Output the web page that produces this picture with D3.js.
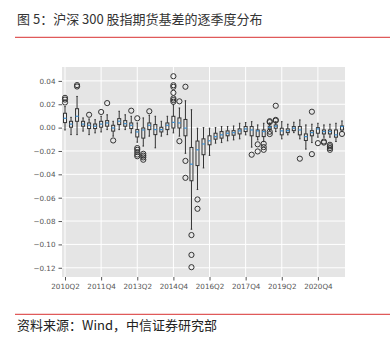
<!DOCTYPE html>
<html><head><meta charset="utf-8">
<script src="https://cdn.jsdelivr.net/npm/d3@7"></script>
<style>
html,body{margin:0;padding:0;background:#fff;}
svg{display:block;}
</style></head>
<body>
<svg id="c" width="390" height="341"></svg>
<script>
const quarters = ["2010Q2","2010Q3","2010Q4","2011Q1","2011Q2","2011Q3","2011Q4","2012Q1","2012Q2","2012Q3","2012Q4","2013Q1","2013Q2","2013Q3","2013Q4","2014Q1","2014Q2","2014Q3","2014Q4","2015Q1","2015Q2","2015Q3","2015Q4","2016Q1","2016Q2","2016Q3","2016Q4","2017Q1","2017Q2","2017Q3","2017Q4","2018Q1","2018Q2","2018Q3","2018Q4","2019Q1","2019Q2","2019Q3","2019Q4","2020Q1","2020Q2","2020Q3","2020Q4","2021Q1","2021Q2","2021Q3","2021Q4"];
const whiskerHigh = [0.018,0.0088,0.0267,0.0083,0.0074,0.0068,0.0097,0.011,0.0054,0.014,0.011,0.0097,0.004,0.0083,0.0105,0.0097,0.0054,0.0097,0.0196,0.0168,0.023,0.0153,-0.0005,0,-0.0005,0,0.0009,0.0009,0.0014,0.0037,0.0043,0.0051,0.0023,0.0037,0.004,0.005,0.0051,0.0029,0.0046,0.0066,0.0023,0.0029,0.0037,0.0023,0.0029,0.0037,0.0057];
const q3 = [0.0123,0.0054,0.0162,0.0054,0.004,0.0031,0.0054,0.006,0.002,0.0077,0.006,0.004,-0.0017,-0.0003,0.004,0.0026,0.0003,0.004,0.0097,0.0083,0.007,-0.017,-0.0115,-0.0096,-0.007,-0.0048,-0.0034,-0.0028,-0.0026,-0.0011,0.0009,0.0009,-0.002,-0.002,0.0012,0.0023,-0.0005,-0.0011,0.0009,0.0009,-0.0054,-0.0026,0,-0.002,-0.002,-0.002,0.0014];
const median = [0.008,0.003,0.0097,0.003,0.002,0.0012,0.003,0.004,-0.0003,0.0055,0.0034,0.002,-0.0037,-0.002,0.002,-0.0017,-0.0017,0.002,0.0045,0.004,-0.0004,-0.0313,-0.019,-0.014,-0.0113,-0.0077,-0.0062,-0.0048,-0.0043,-0.0028,-0.0011,-0.002,-0.0028,-0.0034,0.0002,0.0012,-0.0028,-0.0026,-0.0005,-0.002,-0.0077,-0.0043,-0.0011,-0.0034,-0.0034,-0.0062,0.0009];
const q1 = [0.0043,0.0003,0.0054,0.0012,-0.0008,-0.0008,0.0003,0.0012,-0.003,0.0026,0.0012,-0.0008,-0.008,-0.009,-0.0017,-0.006,-0.0037,-0.0017,-0.0003,-0.0003,-0.007,-0.0455,-0.0325,-0.0232,-0.0147,-0.0099,-0.009,-0.007,-0.0065,-0.0054,-0.0034,-0.007,-0.0077,-0.0077,-0.0012,-0.0005,-0.0062,-0.0043,-0.0026,-0.0062,-0.011,-0.007,-0.0048,-0.0054,-0.0054,-0.0082,-0.002];
const whiskerLow = [-0.002,-0.006,-0.006,-0.003,-0.006,-0.0045,-0.0037,-0.0017,-0.0073,-0.0017,-0.0017,-0.0045,-0.0125,-0.0158,-0.0073,-0.0173,-0.0073,-0.006,-0.0045,-0.0073,-0.022,-0.087,-0.053,-0.0345,-0.0238,-0.0133,-0.0128,-0.0113,-0.0105,-0.0096,-0.0062,-0.0167,-0.0105,-0.012,-0.0025,-0.0034,-0.0096,-0.0062,-0.0043,-0.0096,-0.0184,-0.0128,-0.0082,-0.0082,-0.0082,-0.0119,-0.0034];
const outliers = [[0.0255,0.024,0.0215],[],[0.0364,0.0352],[],[0.011],[],[0.0134],[0.021],[-0.011],[],[],[0.0145],[0.008,-0.0175,-0.019,-0.021,-0.023,-0.0245],[-0.0224,-0.024,-0.0255,-0.0275],[0.014],[],[],[],[0.044,0.0363,0.0349,0.0298,0.025,0.0236,0.0221],[0.0225,-0.0116],[0.035,-0.0285,-0.043],[-0.092,-0.109,-0.1195],[-0.0615,-0.0695],[],[],[],[],[],[],[],[],[-0.0232],[-0.0143,-0.0204],[-0.0138,-0.0167,-0.019],[0.0055,0.0047,-0.0035,-0.0055],[0.0187,0.0066,0.006],[],[],[],[-0.0266],[],[0.0136,-0.0227],[-0.0133],[-0.0119,-0.0128],[-0.0147,-0.016,-0.0175,-0.019],[],[-0.0054]];
const yTicks = [0.04,0.02,0.00,-0.02,-0.04,-0.06,-0.08,-0.10,-0.12];
const xTickLabels = ["2010Q2","2011Q4","2013Q2","2014Q4","2016Q2","2017Q4","2019Q2","2020Q4"];

const svg = d3.select("#c");
const cjk = "'Noto Sans CJK SC','Noto Sans',sans-serif";
const L = 62, R = 345, T = 67, B = 277;

// title
svg.append("text").attr("x",17).attr("y",24).attr("font-family",cjk).attr("font-size",13).attr("fill","#333").text("图 5：沪深 300 股指期货基差的逐季度分布");
svg.append("line").attr("x1",15).attr("x2",390).attr("y1",37.3).attr("y2",37.3).attr("stroke","#e05a5a").attr("stroke-width",1.3);
svg.append("line").attr("x1",15).attr("x2",390).attr("y1",314.3).attr("y2",314.3).attr("stroke","#e05a5a").attr("stroke-width",1.3);
svg.append("text").attr("x",17).attr("y",330).attr("font-family",cjk).attr("font-size",13).attr("fill","#222").text("资料来源：Wind，中信证券研究部");

const x = d3.scaleLinear().domain([0.5, quarters.length + 0.5]).range([L, R]);
const y = d3.scaleLinear().domain([-0.1279, 0.0519]).range([B, T]);

svg.append("rect").attr("x",L).attr("y",T).attr("width",R-L).attr("height",B-T).attr("fill","#e5e5e5");

const xTickPos = quarters.map((q,i)=>i+1).filter((p,i)=>xTickLabels.includes(quarters[i]));
const g = svg.append("g");
// grid
g.selectAll(".hg").data(yTicks).enter().append("line").attr("x1",L).attr("x2",R).attr("y1",d=>y(d)).attr("y2",d=>y(d)).attr("stroke","#fff").attr("stroke-width",1);
g.selectAll(".vg").data(xTickPos).enter().append("line").attr("y1",T).attr("y2",B).attr("x1",d=>x(d)).attr("x2",d=>x(d)).attr("stroke","#fff").attr("stroke-width",1);

// axes
const fmt = d => (d<0?"\u2212":"") + Math.abs(d).toFixed(2);
const yAxis = d3.axisLeft(y).tickValues(yTicks).tickFormat(fmt).tickSize(3.5).tickPadding(3);
const ya = svg.append("g").attr("transform",`translate(${L},0)`).call(yAxis);
ya.select(".domain").remove();
ya.selectAll("line").attr("stroke","#555");
ya.selectAll("text").attr("font-family","'DejaVu Sans',sans-serif").attr("font-size",7.2).attr("fill","#555");

const xAxis = d3.axisBottom(x).tickValues(xTickPos).tickFormat(d=>quarters[d-1]).tickSize(3.5).tickPadding(3);
const xa = svg.append("g").attr("transform",`translate(0,${B})`).call(xAxis);
xa.select(".domain").remove();
xa.selectAll("line").attr("stroke","#555");
xa.selectAll("text").attr("font-family","'DejaVu Sans',sans-serif").attr("font-size",7.2).attr("fill","#555");

// boxes
const bw = x(1.25) - x(0.75);
const cw = x(1.125) - x(0.875);
const stroke = "#333";
quarters.forEach((q,i)=>{
  const p = i+1, cx = x(p);
  const bg = g.append("g");
  bg.append("line").attr("x1",cx).attr("x2",cx).attr("y1",y(q3[i])).attr("y2",y(whiskerHigh[i])).attr("stroke",stroke).attr("stroke-width",1);
  bg.append("line").attr("x1",cx).attr("x2",cx).attr("y1",y(q1[i])).attr("y2",y(whiskerLow[i])).attr("stroke",stroke).attr("stroke-width",1);
  bg.append("line").attr("x1",cx-cw/2).attr("x2",cx+cw/2).attr("y1",y(whiskerHigh[i])).attr("y2",y(whiskerHigh[i])).attr("stroke",stroke).attr("stroke-width",1);
  bg.append("line").attr("x1",cx-cw/2).attr("x2",cx+cw/2).attr("y1",y(whiskerLow[i])).attr("y2",y(whiskerLow[i])).attr("stroke",stroke).attr("stroke-width",1);
  bg.append("rect").attr("x",cx-bw/2).attr("y",y(q3[i])).attr("width",bw).attr("height",Math.max(0.5,y(q1[i])-y(q3[i]))).attr("fill","none").attr("stroke",stroke).attr("stroke-width",1);
  bg.append("line").attr("x1",cx-bw/2).attr("x2",cx+bw/2).attr("y1",y(median[i])).attr("y2",y(median[i])).attr("stroke","#3d8fd1").attr("stroke-width",1.2);
  bg.selectAll("circle").data(outliers[i]).enter().append("circle").attr("cx",cx).attr("cy",d=>y(d)).attr("r",2.6).attr("fill","none").attr("stroke",stroke).attr("stroke-width",1);
});
</script>
</body></html>
